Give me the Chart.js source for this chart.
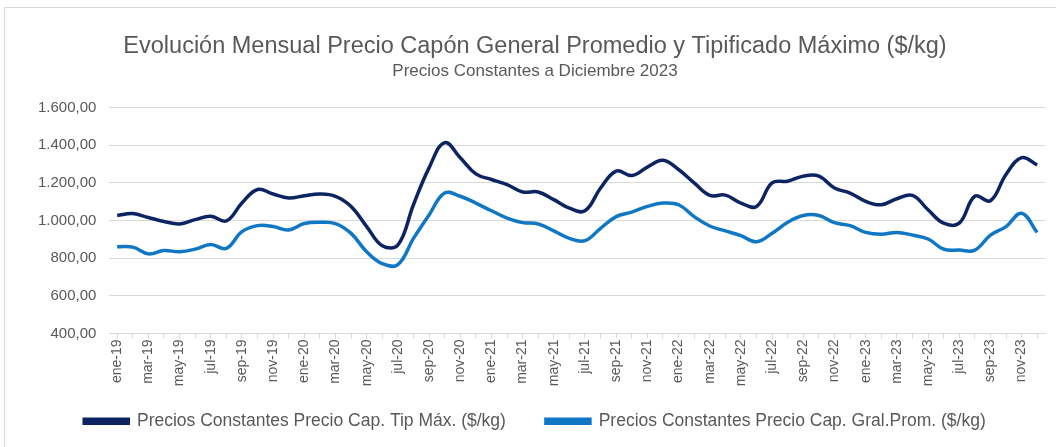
<!DOCTYPE html>
<html>
<head>
<meta charset="utf-8">
<style>
  html, body { margin: 0; padding: 0; background: #fff; overflow: hidden; }
  #frame { position: absolute; left: 4px; top: 7px; width: 1100px; height: 500px; border: 1px solid #d9d9d9; }
  #wrap { position: absolute; left: 0; top: 0; width: 1056px; height: 447px; }
</style>
<script src="https://cdn.jsdelivr.net/npm/chart.js@4.4.1/dist/chart.umd.min.js"></script>
</head>
<body>
<div id="frame"></div>
<div id="wrap"><canvas id="myChart" width="1056" height="447"></canvas></div>
<script>
// meses ene-19 .. dic-23
var meses = ['ene','feb','mar','abr','may','jun','jul','ago','sep','oct','nov','dic'];
var anios = ['19','20','21','22','23'];
var labels = [];
anios.forEach(function (a) {
  meses.forEach(function (m) { labels.push(m + '-' + a); });
});

// Precios Constantes Precio Cap. Tip Máx. ($/kg)
var tipMax = [
  1027, 1037, 1016, 995, 982, 1005, 1023, 998, 1093, 1165, 1141, 1120,
  1132, 1141, 1129, 1075, 968, 866, 870, 1084, 1280, 1414, 1334, 1248,
  1218, 1191, 1152, 1152, 1111, 1066, 1052, 1173, 1263, 1239, 1284, 1320,
  1271, 1200, 1134, 1135, 1093, 1075, 1200, 1209, 1236, 1236, 1173, 1146,
  1102, 1084, 1116, 1134, 1057, 986, 986, 1129, 1105, 1245, 1334, 1295
];

// Precios Constantes Precio Cap. Gral.Prom. ($/kg)
var gralProm = [
  861, 859, 823, 841, 834, 848, 873, 852, 941, 973, 968, 950,
  984, 991, 984, 932, 834, 771, 766, 905, 1030, 1146, 1129, 1093,
  1052, 1013, 989, 982, 945, 905, 893, 959, 1021, 1045, 1075, 1093,
  1084, 1021, 971, 945, 920, 887, 932, 991, 1027, 1027, 989, 973,
  937, 927, 937, 923, 902, 848, 843, 843, 923, 968, 1039, 937
];

var yTicks = [400, 600, 800, 1000, 1200, 1400, 1600];

function fmtNum(v) {
  var s = Math.round(v).toString().replace(/\B(?=(\d{3})+(?!\d))/g, '.');
  return s + ',00';
}

var gris = '#595959';
var fuente = "'Liberation Sans', Arial, sans-serif";

// the x axis box is made short so the legend sits close; don't clip its labels to it
var sinRecorte = {
  id: 'sinRecorte',
  beforeDraw: function (chart) {
    chart.scales.x._computeLabelArea = function () { return undefined; };
  }
};

new Chart(document.getElementById('myChart'), {
  type: 'line',
  data: {
    labels: labels,
    datasets: [{
      label: 'Precios Constantes Precio Cap. Tip Máx. ($/kg)',
      data: tipMax,
      borderColor: '#0c2461',
      backgroundColor: '#0c2461',
      borderWidth: 3.5,
      pointRadius: 0,
      tension: 0.4
    }, {
      label: 'Precios Constantes Precio Cap. Gral.Prom. ($/kg)',
      data: gralProm,
      borderColor: '#0f77c4',
      backgroundColor: '#0f77c4',
      borderWidth: 3.5,
      pointRadius: 0,
      tension: 0.4
    }]
  },
  plugins: [sinRecorte],
  options: {
    responsive: false,
    animation: false,
    layout: { padding: { top: 20, left: 25, right: 11, bottom: 7 } },
    plugins: {
      title: {
        display: true,
        text: 'Evolución Mensual Precio Capón General Promedio y Tipificado Máximo ($/kg)',
        color: gris,
        font: { family: fuente, size: 23.5, weight: 'normal' },
        padding: { top: 12, bottom: 0 }
      },
      subtitle: {
        display: true,
        text: 'Precios Constantes a Diciembre 2023',
        color: gris,
        font: { family: fuente, size: 17 },
        padding: { top: 1, bottom: 26 }
      },
      legend: {
        position: 'bottom',
        labels: {
          color: gris,
          font: { family: fuente, size: 17.5 },
          boxWidth: 44,
          boxHeight: 4,
          padding: 40
        }
      },
      tooltip: { enabled: false }
    },
    scales: {
      x: {
        offset: true,
        afterFit: function (scale) { scale.height = 39; },
        grid: { drawOnChartArea: false, drawTicks: true, tickLength: 5, color: '#d9d9d9' },
        border: { color: '#d9d9d9' },
        ticks: {
          autoSkip: false,
          maxRotation: 90,
          minRotation: 90,
          padding: 1,
          color: gris,
          font: { family: fuente, size: 14 },
          callback: function (v, i) { return i % 2 === 0 ? labels[i] : ''; }
        }
      },
      y: {
        min: 400,
        max: 1600,
        afterBuildTicks: function (axis) {
          axis.ticks = yTicks.map(function (v) { return { value: v }; });
        },
        grid: { color: '#d9d9d9', drawTicks: false },
        border: { display: false },
        ticks: {
          padding: 13,
          color: gris,
          font: { family: fuente, size: 15 },
          callback: function (v) { return fmtNum(v); }
        }
      }
    }
  }
});
</script>
</body>
</html>
